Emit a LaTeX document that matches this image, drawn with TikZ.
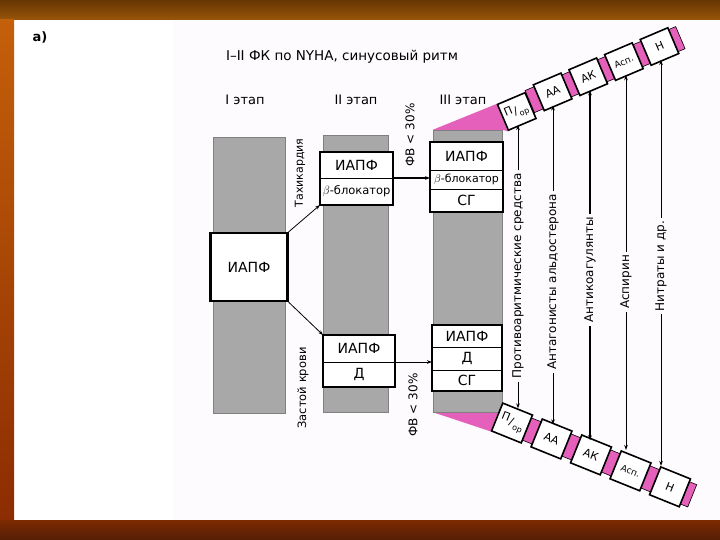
\documentclass[tikz,border=0pt]{standalone}
\usepackage{fontspec}
\setmainfont{DejaVu Sans}
\usetikzlibrary{arrows.meta,positioning}
\pgfdeclarelayer{back}
\pgfsetlayers{back,main}
\definecolor{bargrey}{RGB}{168,168,168}
\definecolor{fanpink}{RGB}{228,96,186}
\definecolor{topbrownA}{RGB}{104,54,4}
\definecolor{topbrownB}{RGB}{152,86,8}
\definecolor{sideorange}{RGB}{196,96,10}
\definecolor{sidered}{RGB}{140,44,2}
\definecolor{botbrownA}{RGB}{126,42,2}
\definecolor{botbrownB}{RGB}{84,30,6}
\definecolor{paper}{RGB}{254,251,254}
\newcommand{\sizept}[1]{\fontsize{#1}{#1}\selectfont}
\newcommand{\pfrac}{\raisebox{3pt}{П}\kern1pt/\kern1pt\raisebox{-3pt}{\sizept{8}ор}}

\begin{document}
\begin{tikzpicture}[x=1pt, y=-1pt, >={Stealth[length=5pt,width=3.6pt]},
  bar/.style={draw=black!50, line width=0.4pt, fill=bargrey, inner sep=0pt},
  row/.style={draw, fill=white, line width=0.6pt, inner sep=0pt, outer sep=0pt, minimum width=73pt},
  cell/.style={draw, fill=white, line width=1.6pt, inner sep=0pt, transform shape,
    minimum width=30pt, minimum height=28pt, font=\sizept{11}},
  bigcell/.style={cell, minimum width=32pt, minimum height=30pt},
  spacer/.style={draw, fill=fanpink, line width=0.6pt, inner sep=0pt, transform shape, minimum height=24pt},
  vlbl/.style={rotate=90, inner sep=3pt, font=\sizept{12}},
  link/.style={->, line width=0.8pt}]
\useasboundingbox (0,0) rectangle (720,540);

\begin{pgfonlayer}{back}
\fill[white] (0,0) rectangle (720,540);
\fill[paper] (173,20) rectangle (720,520);
\shade[top color=topbrownA, bottom color=topbrownB] (0,0) rectangle (720,20);
\shade[top color=sideorange, bottom color=sidered] (0,20) rectangle (14,520);
\shade[top color=botbrownA, bottom color=botbrownB] (0,520) rectangle (720,540);
\end{pgfonlayer}

\node[font=\bfseries\sizept{13}] (tag) at (40,37) {а)};
\node[font=\sizept{13.5}] (title) at (342,57) {I–II ФК по NYHA, синусовый ритм};
\node[font=\sizept{13}] (stage1) at (245,100) {I этап};
\node[font=\sizept{13}] (stage2) at (356,100) {II этап};
\node[font=\sizept{13}] (stage3) at (463,100) {III этап};

\node[bar, minimum width=72pt, minimum height=276pt] (bar1) at (249,275) {};
\node[bar, minimum width=65pt, minimum height=277pt] (bar2) at (355.5,273.5) {};
\node[bar, minimum width=69pt, minimum height=282pt] (bar3) at (467.5,271) {};

\node[draw, fill=white, line width=2.2pt, minimum width=77pt, minimum height=68pt,
  font=\sizept{14}] (ace1) at (249,267) {ИАПФ};

\node[row, minimum height=26pt, font=\sizept{14}] (ace2) at (356.5,165) {ИАПФ};
\node[row, minimum height=27pt, font=\sizept{11.5}, below=0pt of ace2] (beta2) {$\beta$-блокатор};
\draw[line width=2pt] (ace2.north west) rectangle (beta2.south east);

\node[row, minimum width=72pt, minimum height=27pt, font=\sizept{14}] (ace3) at (359,348.5) {ИАПФ};
\node[row, minimum width=72pt, minimum height=25pt, font=\sizept{14}, below=0pt of ace3] (diu3) {Д};
\draw[line width=1.4pt] (ace3.north west) rectangle (diu3.south east);

\node[row, minimum height=28pt, font=\sizept{14}] (ace4) at (466.5,156) {ИАПФ};
\node[row, minimum height=19pt, font=\sizept{11}, below=0pt of ace4] (beta4) {$\beta$-блокатор};
\node[row, minimum height=23pt, font=\sizept{14}, below=0pt of beta4] (sg4) {СГ};
\draw[line width=1.8pt] (ace4.north west) rectangle (sg4.south east);

\node[row, minimum width=70pt, minimum height=22pt, font=\sizept{14}] (ace5) at (467,336) {ИАПФ};
\node[row, minimum width=70pt, minimum height=23pt, font=\sizept{14}, below=0pt of ace5] (diu5) {Д};
\node[row, minimum width=70pt, minimum height=21pt, font=\sizept{14}, below=0pt of diu5] (sg5) {СГ};
\draw[line width=1.8pt] (ace5.north west) rectangle (sg5.south east);

\draw[link] (ace1.north east) -- (beta2.south west);
\draw[link] (ace1.south east) -- (ace3.north west);
\draw[link, line width=1.8pt] (ace2.south east) -- (ace2.south east -| beta4.west);
\draw[link] (ace3.south east) -- (ace3.south east -| diu5.west);

\node[vlbl, font=\sizept{11}] (tachy) at (300,173) {Тахикардия};
\node[vlbl, font=\sizept{11.5}] (congest) at (303,388) {Застой крови};
\node[vlbl] (ef1) at (410,135) {ФВ < 30\%};
\node[vlbl] (ef2) at (413,405) {ФВ < 30\%};

\begin{scope}[shift={(517,107)}, rotate=23]
  \node[spacer, minimum width=11pt] (ts1) at (19.35,0) {};
  \node[spacer, minimum width=11pt] (ts2) at (58.05,0) {};
  \node[spacer, minimum width=11pt] (ts3) at (96.75,0) {};
  \node[spacer, minimum width=11pt] (ts4) at (135.45,0) {};
  \node[spacer, minimum width=8pt] (tcap) at (173.5,0) {};
  \node[cell] (t1) at (-2,4) {\pfrac};
  \node[cell] (t2) at (38.7,0) {АА};
  \node[cell] (t3) at (77.4,0) {АК};
  \node[cell, font=\sizept{9}] (t4) at (116.1,0) {Асп.};
  \node[cell] (t5) at (154.8,0) {Н};
\end{scope}

\begin{scope}[shift={(512,423)}, rotate=-22]
  \node[spacer, minimum width=12.6pt] (bs1) at (21.3,0) {};
  \node[spacer, minimum width=12.6pt] (bs2) at (63.9,0) {};
  \node[spacer, minimum width=12.6pt] (bs3) at (106.5,0) {};
  \node[spacer, minimum width=12.6pt] (bs4) at (149.1,0) {};
  \node[spacer, minimum width=8pt] (bcap) at (190.4,0) {};
  \node[bigcell] (b1) at (0,0) {\pfrac};
  \node[bigcell] (b2) at (42.6,0) {АА};
  \node[bigcell] (b3) at (85.2,0) {АК};
  \node[bigcell, font=\sizept{9}] (b4) at (127.8,0) {Асп.};
  \node[bigcell] (b5) at (170.4,0) {Н};
\end{scope}

\begin{pgfonlayer}{back}
\fill[fanpink] (bar3.north west) -- (t1.north west) -- (t1.south west) -- (bar3.north east) -- cycle;
\fill[fanpink] (bar3.south west) -- (b1.north west) -- (b1.south west) -- cycle;
\end{pgfonlayer}

\node[vlbl] (antiarr) at (518,276) {Противоаритмические средства};
\node[vlbl] (aldo) at (553,282) {Антагонисты альдостерона};
\node[vlbl] (coag) at (590,270) {Антикоагулянты};
\node[vlbl] (aspir) at (626,282) {Аспирин};
\node[vlbl] (nitr) at (661,266) {Нитраты и др.};

\draw[link] (antiarr.east) -- (antiarr.east |- t1.south);
\draw[link] (antiarr.west) -- (antiarr.west |- b1.north);
\draw[link] (aldo.east) -- (aldo.east |- t2.south);
\draw[link] (aldo.west) -- (aldo.west |- b2.north);
\draw[link, line width=1.1pt] (coag.east) -- (coag.east |- t3.south);
\draw[link, line width=1.1pt] (coag.west) -- (coag.west |- b3.north);
\draw[link] (aspir.east) -- (aspir.east |- t4.south);
\draw[link] (aspir.west) -- (aspir.west |- b4.north west);
\draw[link] (nitr.east) -- (nitr.east |- t5.south);
\draw[link] (nitr.west) -- (nitr.west |- b5.north west);
\end{tikzpicture}
\end{document}
